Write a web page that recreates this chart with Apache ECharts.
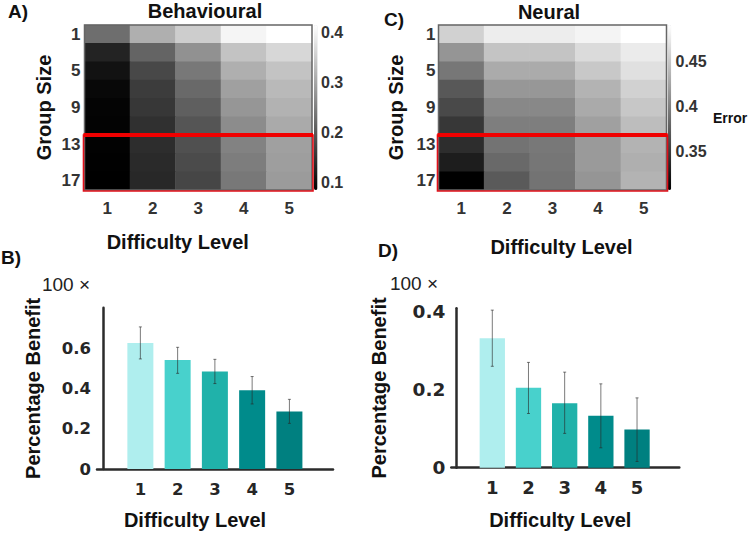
<!DOCTYPE html>
<html><head><meta charset="utf-8">
<style>html,body{margin:0;padding:0;background:#fff}#c{width:749px;height:534px}</style>
<script src="https://cdn.jsdelivr.net/npm/echarts@6/dist/echarts.min.js"></script>
</head><body><div id="c"></div>
<script>
const difficulty=[1,2,3,4,5];
const groupSizes=['1','3','5','7','9','11','13','15','17'];
const behaviouralError=[
[0.227,0.311,0.350,0.401,0.414],
[0.131,0.215,0.272,0.337,0.362],
[0.109,0.179,0.240,0.311,0.337],
[0.096,0.163,0.221,0.292,0.324],
[0.091,0.157,0.208,0.279,0.315],
[0.090,0.148,0.195,0.266,0.305],
[0.089,0.144,0.189,0.253,0.292],
[0.087,0.140,0.182,0.247,0.289],
[0.086,0.137,0.176,0.240,0.285]];
const neuralError=[
[0.457,0.477,0.477,0.482,0.490],
[0.414,0.448,0.448,0.464,0.476],
[0.393,0.430,0.430,0.451,0.468],
[0.371,0.416,0.416,0.436,0.457],
[0.360,0.405,0.405,0.429,0.450],
[0.347,0.398,0.398,0.422,0.443],
[0.340,0.390,0.394,0.418,0.436],
[0.329,0.383,0.392,0.418,0.433],
[0.308,0.372,0.390,0.414,0.436]];
const behaviouralRange=[0.086,0.414], neuralRange=[0.308,0.490];
const behaviouralTicks=[0.1,0.2,0.3,0.4], neuralTicks=[0.35,0.4,0.45];
const benefitB=[0.63,0.545,0.487,0.393,0.287];
const lowB=[0.55,0.478,0.427,0.325,0.228];
const highB=[0.71,0.608,0.548,0.462,0.348];
const benefitD=[0.332,0.205,0.165,0.133,0.098];
const lowD=[0.26,0.139,0.088,0.051,0.016];
const highD=[0.404,0.27,0.245,0.215,0.179];
const barColors=['#AFEEEE','#48D1CC','#20B2AA','#008B8B','#008080'];

const arial='"Liberation Sans",Arial,sans-serif';
const deja='"DejaVu Sans",sans-serif';
const dark='#262626';
const boldName=(p)=>({fontFamily:arial,fontWeight:'bold',fontSize:20,color:'#111',padding:p||0});

function heatCells(m){const o=[];m.forEach((r,y)=>r.forEach((v,x)=>o.push([x,y,v])));return o;}
function txt(text,x,y,size,weight,family,color){
  return {type:'text',x,y,z:20,style:{text,x:0,y:0,fontSize:size,fontWeight:weight||'bold',fontFamily:family||arial,fill:color||'#111',textAlign:'center',textVerticalAlign:'middle'}};
}
function frameItem(params,api){
  const s=api.size([1,1]);
  const a=api.coord([api.value(0),api.value(1)]), b=api.coord([api.value(2),api.value(3)]);
  const x=a[0]-s[0]/2, y=a[1]-s[1]/2, w=b[0]-a[0]+s[0], h=b[1]-a[1]+s[1];
  if(params.dataIndex===0){
    return {type:'rect',shape:{x,y,width:w,height:h},style:{fill:'none',stroke:'#666',lineWidth:1.5}};
  }
  return {type:'group',children:[
    {type:'rect',shape:{x:x-1,y,width:w+2,height:h+1},style:{fill:'none',stroke:'#e0101a',lineWidth:1.6}},
    {type:'line',shape:{x1:x-1,y1:y,x2:x+w+1,y2:y},style:{stroke:'#f00000',lineWidth:4}}
  ]};
}
function errItem(params,api){
  const x=api.value(0), l=api.coord([x,api.value(1)]), h=api.coord([x,api.value(2)]);
  const st={stroke:'rgba(40,40,40,0.62)',lineWidth:1};
  return {type:'group',children:[
    {type:'line',shape:{x1:l[0],y1:l[1],x2:h[0],y2:h[1]},style:st},
    {type:'line',shape:{x1:l[0]-1.5,y1:l[1],x2:l[0]+1.5,y2:l[1]},style:st},
    {type:'line',shape:{x1:h[0]-1.5,y1:h[1],x2:h[0]+1.5,y2:h[1]},style:st}
  ]};
}
const heatX=(i)=>({type:'category',gridIndex:i,data:difficulty,position:'bottom',name:'Difficulty Level',nameLocation:'middle',nameGap:i===0?42:47,
  nameTextStyle:boldName(i===0?[0,41,0,0]:[0,0,0,18]),
  axisLine:{show:false},axisTick:{show:false},splitLine:{show:false},
  axisLabel:{margin:10,fontFamily:arial,fontWeight:'bold',fontSize:17,color:'#333'}});
const heatY=(i)=>({type:'category',gridIndex:i,data:groupSizes,inverse:true,name:'Group Size',nameLocation:'middle',nameGap:i===0?31:33,nameTextStyle:boldName(),
  axisLine:{show:false},axisTick:{show:false},splitLine:{show:false},
  axisLabel:{interval:1,margin:i===0?4:3,fontFamily:arial,fontWeight:'bold',fontSize:17,color:'#333'}});
const barScale=(i,ticks)=>({type:'value',gridIndex:i,position:'right',min:(i===0?behaviouralRange:neuralRange)[0],max:(i===0?behaviouralRange:neuralRange)[1],
  axisLine:{show:false},axisTick:{show:false},splitLine:{show:false},
  axisLabel:{margin:9,fontFamily:arial,fontWeight:'bold',fontSize:16,color:'#333',customValues:ticks,formatter:v=>String(+v.toFixed(2))}});
const benefitX=(i,min,max,size,margin,gap,pad)=>({type:'value',gridIndex:i,min,max,name:'Difficulty Level',nameLocation:'middle',nameGap:gap,nameTextStyle:boldName(pad),
  axisLine:{show:true,onZero:false,lineStyle:{color:'#2b2b2b',width:2.5}},axisTick:{show:false},splitLine:{show:false},
  axisLabel:{margin,fontFamily:deja,fontWeight:'bold',fontSize:size,color:dark,customValues:difficulty,formatter:v=>String(v)}});
const benefitY=(i,max,ticks,size,gap)=>({type:'value',gridIndex:i,min:0,max,name:'Percentage Benefit',nameLocation:'middle',nameGap:gap,nameTextStyle:boldName(),
  axisLine:{show:true,lineStyle:{color:'#2b2b2b',width:2.5}},axisTick:{show:false},splitLine:{show:false},
  axisLabel:{margin:6,fontFamily:deja,fontWeight:'bold',fontSize:size,color:dark,customValues:ticks,formatter:v=>v===0?'0':String(v)}});
const bars=(i,yi,vals,w)=>({type:'bar',xAxisIndex:i,yAxisIndex:yi,barWidth:w,silent:true,
  data:vals.map((v,k)=>({value:[difficulty[k],v],itemStyle:{color:barColors[k]}}))});
const errs=(i,yi,lo,hi)=>({type:'custom',xAxisIndex:i,yAxisIndex:yi,silent:true,z:5,renderItem:errItem,clip:false,
  encode:{x:0,y:[1,2]},data:difficulty.map((d,k)=>[d,lo[k],hi[k]])});
const heat=(i,m)=>({type:'heatmap',xAxisIndex:i,yAxisIndex:i,data:heatCells(m),silent:true,emphasis:{disabled:true},progressive:0});
const frame=(i)=>({type:'custom',xAxisIndex:i,yAxisIndex:i,silent:true,z:6,clip:false,renderItem:frameItem,
  encode:{x:[0,2],y:[1,3]},data:[[0,0,4,8],[0,6,4,8]]});

const chart=echarts.init(document.getElementById('c'),null,{renderer:'svg'});
chart.setOption({
  animation:false,backgroundColor:'#fff',
  grid:[
    {left:84.5,top:25,width:227.5,height:165,outerBoundsMode:'none'},
    {left:438.5,top:25,width:228,height:165,outerBoundsMode:'none'},
    {left:97,top:307.7,width:236,height:161.3,outerBoundsMode:'none'},
    {left:451.3,top:308.3,width:228,height:159.4,outerBoundsMode:'none'}
  ],
  xAxis:[heatX(0),heatX(1),benefitX(2,-0.164,6.17,16.5,12,41,[0,40,0,0]),benefitX(3,-0.133,6.168,18,11,42,[0,10,0,0])],
  yAxis:[heatY(0),heatY(1),benefitY(2,0.806,[0,0.2,0.4,0.6],16.5,54),benefitY(3,0.4087,[0,0.2,0.4],18.5,62),barScale(0,behaviouralTicks),barScale(1,neuralTicks)],
  visualMap:[
    {type:'continuous',seriesIndex:0,min:behaviouralRange[0],max:behaviouralRange[1],left:314,top:25,itemWidth:3.5,itemHeight:165,calculable:false,hoverLink:false,inRange:{color:['#000','#fff']},padding:0,borderWidth:0},
    {type:'continuous',seriesIndex:3,min:neuralRange[0],max:neuralRange[1],left:667.7,top:25,itemWidth:3.5,itemHeight:165,calculable:false,hoverLink:false,inRange:{color:['#000','#fff']},padding:0,borderWidth:0}
  ],
  series:[heat(0,behaviouralError),frame(0),
          {type:'custom',xAxisIndex:0,yAxisIndex:4,silent:true,data:[],renderItem:()=>null},
          heat(1,neuralError),frame(1),
          {type:'custom',xAxisIndex:1,yAxisIndex:5,silent:true,data:[],renderItem:()=>null},
          bars(2,2,benefitB,26),errs(2,2,lowB,highB),bars(3,3,benefitD,25.3),errs(3,3,lowD,highD)],
  graphic:[
    txt('A)',18,11,19),txt('Behavioural',205,11,20),
    txt('C)',394,19,19),txt('Neural',549,12,20),
    txt('Error',730,118,14),
    txt('B)',11,257,19),txt('D)',388,250,19),
    txt('100 ×',66,284,19,'normal',arial,'#222'),
    txt('100 ×',414,283,19,'normal',arial,'#222')
  ]
});
</script></body></html>
